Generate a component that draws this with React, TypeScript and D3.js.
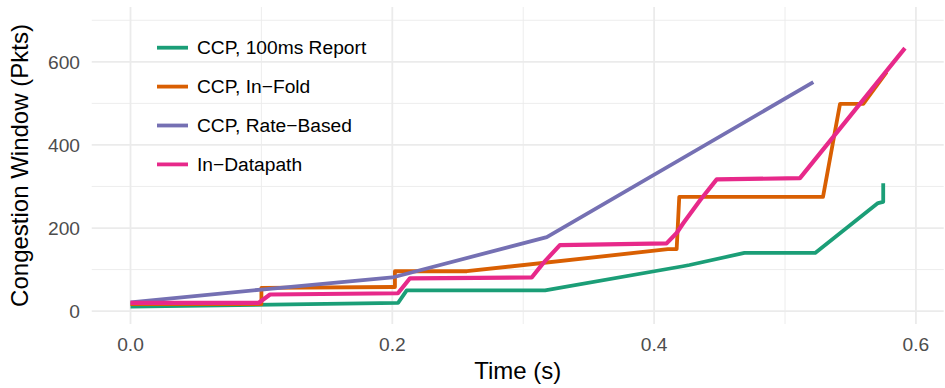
import React, { useEffect, useRef } from "react";
import * as d3 from "d3";

// time (s) and congestion window (pkts)
const reportTime = [0, 0.2044, 0.211, 0.3167, 0.422, 0.427, 0.469, 0.523, 0.571, 0.575, 0.575];
const reportCwnd = [11, 20, 50, 50, 108, 111, 140, 140, 260, 263, 308];

const foldTime = [0, 0.1, 0.1, 0.2005, 0.202, 0.202, 0.257, 0.4105, 0.4172, 0.4192, 0.529, 0.542, 0.5598, 0.5776];
const foldCwnd = [17, 17, 56, 58, 58, 96, 96, 149, 149, 275, 275, 499, 499, 575];

const rateTime = [0, 0.1, 0.2, 0.318, 0.5216];
const rateCwnd = [21, 52, 81, 178, 551];

const dpTime = [0, 0.098, 0.1066, 0.2043, 0.2135, 0.3065, 0.3151, 0.328, 0.4095, 0.4172, 0.4221, 0.4351, 0.4478, 0.5114, 0.5916];
const dpCwnd = [20, 20, 40, 43, 79, 81, 115, 159, 163, 188, 211, 267, 317, 320, 633];

const seriesNames = ["CCP, 100ms Report", "CCP, In\u2212Fold", "CCP, Rate\u2212Based", "In\u2212Datapath"];
const seriesColors = ["#1B9E77", "#D95F02", "#7570B3", "#E7298A"];

const xMajor = [0, 0.2, 0.4, 0.6];
const xMinor = [0.1, 0.3, 0.5];
const yMajor = [0, 200, 400, 600];
const yMinor = [100, 300, 500, 700];

const W = 945;
const H = 388;
const font = "'Liberation Sans', Arial, Helvetica, sans-serif";

function CwndChart() {
  const ref = useRef<SVGSVGElement | null>(null);

  useEffect(() => {
    const svg = d3.select(ref.current);
    svg.selectAll("*").remove();

    const x = d3.scaleLinear().domain([-0.0296, 0.6212]).range([91.75, 943.7]);
    const y = d3.scaleLinear().domain([-31, 732]).range([324, 7]);
    const [x0, x1] = x.range();
    const [y0, y1] = y.range();

    const grid = svg.append("g");
    grid.selectAll(".xmin").data(xMinor).enter().append("line")
      .attr("x1", (d) => x(d)).attr("x2", (d) => x(d))
      .attr("y1", y0).attr("y2", y1)
      .attr("stroke", "#EBEBEB").attr("stroke-width", 0.9);
    grid.selectAll(".ymin").data(yMinor).enter().append("line")
      .attr("y1", (d) => y(d)).attr("y2", (d) => y(d))
      .attr("x1", x0).attr("x2", x1)
      .attr("stroke", "#EBEBEB").attr("stroke-width", 0.9);
    grid.selectAll(".xmaj").data(xMajor).enter().append("line")
      .attr("x1", (d) => x(d)).attr("x2", (d) => x(d))
      .attr("y1", y0).attr("y2", y1)
      .attr("stroke", "#EBEBEB").attr("stroke-width", 1.8);
    grid.selectAll(".ymaj").data(yMajor).enter().append("line")
      .attr("y1", (d) => y(d)).attr("y2", (d) => y(d))
      .attr("x1", x0).attr("x2", x1)
      .attr("stroke", "#EBEBEB").attr("stroke-width", 1.8);

    // tick labels
    svg.append("g").selectAll("text").data(xMajor).enter().append("text")
      .attr("x", (d) => x(d)).attr("y", 351)
      .attr("text-anchor", "middle")
      .attr("font-family", font).attr("font-size", 19.2).attr("fill", "#4D4D4D")
      .text((d) => d3.format(".1f")(d));
    svg.append("g").selectAll("text").data(yMajor).enter().append("text")
      .attr("x", 80).attr("y", (d) => y(d))
      .attr("dy", "0.35em")
      .attr("text-anchor", "end")
      .attr("font-family", font).attr("font-size", 19.2).attr("fill", "#4D4D4D")
      .text((d) => d);

    // axis titles
    svg.append("text")
      .attr("x", (x0 + x1) / 2).attr("y", 379)
      .attr("text-anchor", "middle")
      .attr("font-family", font).attr("font-size", 24).attr("fill", "black")
      .text("Time (s)");
    svg.append("text")
      .attr("transform", `translate(28,${(y0 + y1) / 2}) rotate(-90)`)
      .attr("text-anchor", "middle")
      .attr("font-family", font).attr("font-size", 24).attr("fill", "black")
      .text("Congestion Window (Pkts)");

    const series = [
      { t: reportTime, c: reportCwnd },
      { t: foldTime, c: foldCwnd },
      { t: rateTime, c: rateCwnd },
      { t: dpTime, c: dpCwnd },
    ];
    const line = d3.line<[number, number]>()
      .x((d) => x(d[0]))
      .y((d) => y(d[1]));

    series.forEach((s, i) => {
      const pts = s.t.map((t, j) => [t, s.c[j]] as [number, number]);
      svg.append("path")
        .attr("d", line(pts))
        .attr("fill", "none")
        .attr("stroke", seriesColors[i])
        .attr("stroke-width", i === 3 ? 4.2 : 3.8)
        .attr("stroke-linejoin", "round");
    });

    // legend
    const lg = svg.append("g");
    seriesNames.forEach((name, i) => {
      const cy = 47.7 + i * 38.9;
      lg.append("line")
        .attr("x1", 157).attr("x2", 188)
        .attr("y1", cy).attr("y2", cy)
        .attr("stroke", seriesColors[i]).attr("stroke-width", 3.8);
      lg.append("text")
        .attr("x", 197).attr("y", cy).attr("dy", "0.35em")
        .attr("font-family", font).attr("font-size", 19.2).attr("fill", "black")
        .text(name);
    });
  }, []);

  return (
    <svg ref={ref} width={W} height={H}
      style={{ position: "absolute", left: 0, top: 0, background: "white" }} />
  );
}

export default function App() {
  return <CwndChart />;
}
